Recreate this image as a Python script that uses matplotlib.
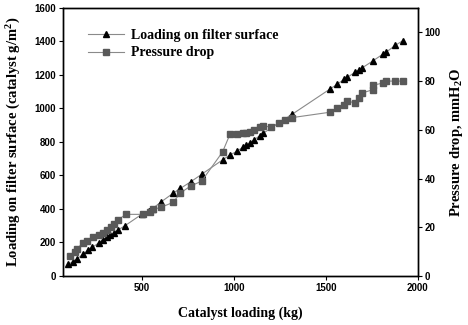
import matplotlib
matplotlib.use("Agg")
import matplotlib.pyplot as plt
from matplotlib.lines import Line2D

plt.rcParams['mathtext.fontset'] = 'custom'
plt.rcParams['mathtext.rm'] = 'Liberation Serif:bold'
plt.rcParams['mathtext.bf'] = 'Liberation Serif:bold'
plt.rcParams['mathtext.it'] = 'Liberation Serif:bold'

# Loading on filter surface (left axis)
x_load = [98, 122, 143, 179, 207, 228, 266, 288, 306, 324, 348, 369, 406, 497, 538, 556,
          600, 668, 708, 765, 823, 937, 977, 1018, 1046, 1067, 1085, 1107, 1140, 1158,
          1315, 1520, 1560, 1598, 1616, 1660, 1678, 1696, 1756, 1810, 1828, 1877, 1918]
loading = [70, 85, 100, 131, 155, 171, 199, 215, 231, 243, 259, 275, 300, 368, 390, 402,
           440, 494, 523, 563, 607, 693, 722, 746, 768, 782, 792, 812, 838, 852,
           965, 1115, 1144, 1174, 1186, 1218, 1230, 1242, 1285, 1325, 1337, 1377, 1405]

# Pressure drop (right axis)
x_dp = [107, 134, 143, 179, 201, 230, 266, 288, 310, 328, 348, 369, 410, 502, 542, 560,
        602, 668, 708, 765, 823, 937, 977, 1018, 1046, 1067, 1085, 1107, 1140, 1158,
        1199, 1243, 1279, 1315, 1520, 1560, 1598, 1616, 1660, 1678, 1696, 1756, 1756,
        1810, 1828, 1877, 1918]
dp = [8.2, 10, 11, 13.7, 14.3, 15.9, 16.8, 17.8, 18.9, 20, 21.3, 23, 25.3, 25.3, 26.4, 27.3,
      28.2, 30.2, 34.1, 37, 38.9, 50.9, 58.1, 58.1, 58.7, 58.8, 59, 60.1, 61.2, 61.5,
      61.2, 62.6, 63.9, 65, 67.2, 69, 70.2, 71.8, 71, 73.1, 75.1, 76.5, 78.3,
      79.2, 80, 80, 80]

xticks = [500, 1000, 1500, 2000]
yticks_left = [0, 200, 400, 600, 800, 1000, 1200, 1400, 1600]
yticks_right = [0, 20, 40, 60, 80, 100]

fig = plt.figure(figsize=(4.68, 3.25), dpi=100)
ax = fig.add_axes([0.1346, 0.1508, 0.7584, 0.8246])
ax2 = ax.twinx()

line_col = '#8a8a8a'
ax.plot(x_load, loading, '-', color=line_col, lw=0.8, marker='^', ms=5,
        mfc='black', mec='black', zorder=3)
ax2.plot(x_dp, dp, '-', color=line_col, lw=0.8, marker='s', ms=4.5,
         mfc='#595959', mec='#595959', zorder=2)

ax.set_xlim(69, 2000)
ax.set_ylim(0, 1600)
ax2.set_ylim(0, 110)
ax.set_xticks(xticks)
ax.set_yticks(yticks_left)
ax2.set_yticks(yticks_right)

for a in (ax, ax2):
    a.tick_params(direction='out', length=3, width=0.8, pad=2)
    for lab in a.get_xticklabels() + a.get_yticklabels():
        lab.set_fontfamily('Liberation Sans')
        lab.set_fontweight('bold')
        lab.set_fontsize(7)
    for s in a.spines.values():
        s.set_linewidth(1.0)

ax.set_xlabel('Catalyst loading (kg)', labelpad=10,
              family='Liberation Serif', weight='bold', size=10)
ax.set_ylabel(r'Loading on filter surface (catalyst g/m$^2$)', labelpad=8,
              family='Liberation Serif', weight='bold', size=10.5)
ax2.set_ylabel(r'Pressure drop, mmH$_2$O', labelpad=5,
               family='Liberation Serif', weight='bold', size=10.5)

handles = [
    Line2D([], [], color=line_col, lw=0.8, marker='^', ms=5, mfc='black', mec='black'),
    Line2D([], [], color=line_col, lw=0.8, marker='s', ms=4.5, mfc='#595959', mec='#595959'),
]
ax2.legend(handles, ['Loading on filter surface', 'Pressure drop'], loc='upper left',
           bbox_to_anchor=(0.035, 0.97), frameon=False,
           prop=dict(family='Liberation Serif', weight='bold', size=10),
           handlelength=2.6, handletextpad=0.5, labelspacing=0.35)

fig.savefig('out.png', dpi=100)
